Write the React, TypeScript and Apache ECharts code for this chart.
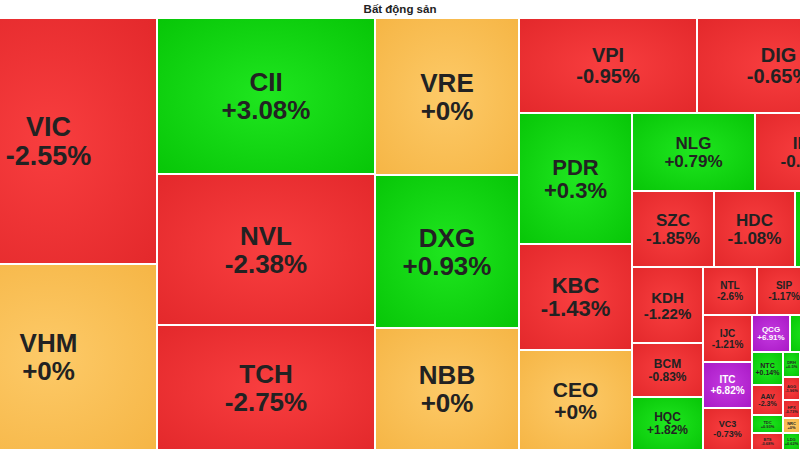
import React, { useEffect, useRef } from "react";
import * as echarts from "echarts";

// ---- data ----
const titleText = "Bất động sản";

const tickers = [
  "VIC", "VHM", "CII", "NVL", "TCH", "VRE", "DXG", "NBB",
  "VPI", "DIG", "PDR", "KBC", "CEO", "NLG", "IDC",
  "SZC", "HDC", "KHG", "KDH", "BCM", "HQC",
  "NTL", "SIP", "SCR", "IJC", "ITC", "VC3",
  "QCG", "PVL", "HTN", "NTC", "AAV", "TDC", "BTS",
  "DRH", "DPG", "AGG", "HPX", "NRC", "LDG", "TDH", "CRE",
];

// relative weight (cell size)
const weights = [
  53382, 40362, 34008, 32918, 27250, 22608, 22032, 17568,
  16910, 15485, 14803, 11978, 11300, 9594, 8190,
  6232, 6156, 4940, 5396, 3834, 3763,
  2592, 2592, 2352, 2303, 2254, 2058,
  1406, 1295, 1295, 1023, 930, 558, 527,
  425, 1500, 391, 306, 255, 289, 2400, 1980,
];

// % change
const changes = [
  -2.55, 0, 3.08, -2.38, -2.75, 0, 0.93, 0,
  -0.95, -0.65, 0.3, -1.43, 0, 0.79, -0.82,
  -1.85, -1.08, 1.2, -1.22, -0.83, 1.82,
  -2.6, -1.17, -1.5, -1.21, 6.82, -0.73,
  6.91, 1.0, -1.0, 0.14, -2.3, 0.93, -0.68,
  0.5, -1.2, -1.96, -0.73, 0, 0.62, -1.0, -1.3,
];

// grouping of the tickers (sectors / blocks)
const blocks: any[] = [
  ["VIC", "VHM"],
  ["CII", "NVL", "TCH"],
  ["VRE", "DXG", "NBB"],
  [
    ["VPI", "DIG"],
    ["PDR", "KBC", "CEO"],
    [
      ["NLG", "IDC"],
      ["SZC", "HDC", "KHG"],
      ["KDH", "BCM", "HQC"],
      ["NTL", "SIP", "SCR"],
      ["IJC", "ITC", "VC3"],
      ["QCG", "PVL", "HTN"],
      ["NTC", "AAV", "TDC", "BTS"],
      [["DRH", "DPG"], [["AGG", "HPX", "NRC", "LDG"], ["TDH", "CRE"]]],
    ],
  ],
];

// ---- styles ----
const labelFont: Record<string, number> = {
  VIC: 27, VHM: 26, CII: 26, NVL: 26, TCH: 26, VRE: 26, DXG: 26, NBB: 26,
  VPI: 20, DIG: 20, PDR: 22, KBC: 22, CEO: 21, NLG: 17, IDC: 17,
  SZC: 17, HDC: 17, KHG: 14, KDH: 15, BCM: 12, HQC: 12,
  NTL: 10, SIP: 10, SCR: 10, IJC: 10, ITC: 10, VC3: 9,
  QCG: 8, PVL: 7, HTN: 7, NTC: 7, AAV: 7, TDC: 4, BTS: 4,
  DRH: 4, DPG: 6, AGG: 4, HPX: 4, NRC: 4, LDG: 4, TDH: 8, CRE: 8,
};

const palette = {
  red: ["#f83e3f", "#e2272a"],
  green: ["#1fe61f", "#06c406"],
  yellow: ["#fdca68", "#f5b443"],
  purple: ["#c43ae0", "#a817c4"],
};

function colorFor(ch: number) {
  if (ch >= 6.5) return palette.purple;
  if (ch > 0) return palette.green;
  if (ch < 0) return palette.red;
  return palette.yellow;
}

function fmt(ch: number) {
  return (ch >= 0 ? "+" : "") + ch + "%";
}

let groupId = 0;
function build(node: any): any {
  if (typeof node === "string") {
    const i = tickers.indexOf(node);
    const ch = changes[i];
    const [c0, c1] = colorFor(ch);
    const fs = labelFont[node] || 8;
    return {
      name: node,
      value: weights[i],
      itemStyle: {
        color: {
          type: "radial",
          x: 0.5,
          y: 0.5,
          r: 0.75,
          colorStops: [
            { offset: 0, color: c0 },
            { offset: 1, color: c1 },
          ],
          global: false,
        },
        borderWidth: 1,
        borderColor: "#ffffff",
      },
      label: {
        fontSize: fs,
        lineHeight: Math.round(fs * 1.06),
        color: ch >= 6.5 ? "#ffffff" : "#222222",
      },
    };
  }
  groupId += 1;
  return {
    name: "g" + groupId,
    children: node.map(build),
    itemStyle: { borderWidth: 0, gapWidth: 0, borderColor: "#ffffff" },
  };
}

export default function App() {
  const ref = useRef<HTMLDivElement>(null);
  useEffect(() => {
    document.body.style.margin = "0";
    document.body.style.overflow = "hidden";
    if (!ref.current) return;
    const chart = echarts.init(ref.current, null, { renderer: "svg" });
    groupId = 0;
    const data = blocks.map(build);
    const changeOf: Record<string, number> = {};
    tickers.forEach((t, i) => (changeOf[t] = changes[i]));
    chart.setOption({
      animation: false,
      backgroundColor: "#ffffff",
      title: {
        text: titleText,
        left: "center",
        top: 2,
        padding: 0,
        textStyle: {
          fontFamily: "Liberation Sans",
          fontSize: 11.5,
          fontWeight: "bold",
          color: "#222222",
          lineHeight: 13,
        },
      },
      series: [
        {
          type: "treemap",
          left: 0,
          top: 18,
          width: 920,
          height: 432,
          roam: false,
          nodeClick: false,
          sort: false,
          squareRatio: 0.01,
          visibleMin: 1,
          breadcrumb: { show: false },
          upperLabel: { show: false },
          itemStyle: { borderWidth: 0, gapWidth: 0, borderColor: "#ffffff" },
          label: {
            show: true,
            position: "inside",
            fontFamily: "Liberation Sans",
            fontWeight: "bold",
            padding: 0,
            align: "center",
            verticalAlign: "middle",
            formatter: (p: any) => p.name + "\n" + fmt(changeOf[p.name]),
          },
          data,
        },
      ],
    });
    return () => chart.dispose();
  }, []);
  return (
    <div
      ref={ref}
      style={{ position: "fixed", left: -60, top: 0, width: 920, height: 450 }}
    />
  );
}
